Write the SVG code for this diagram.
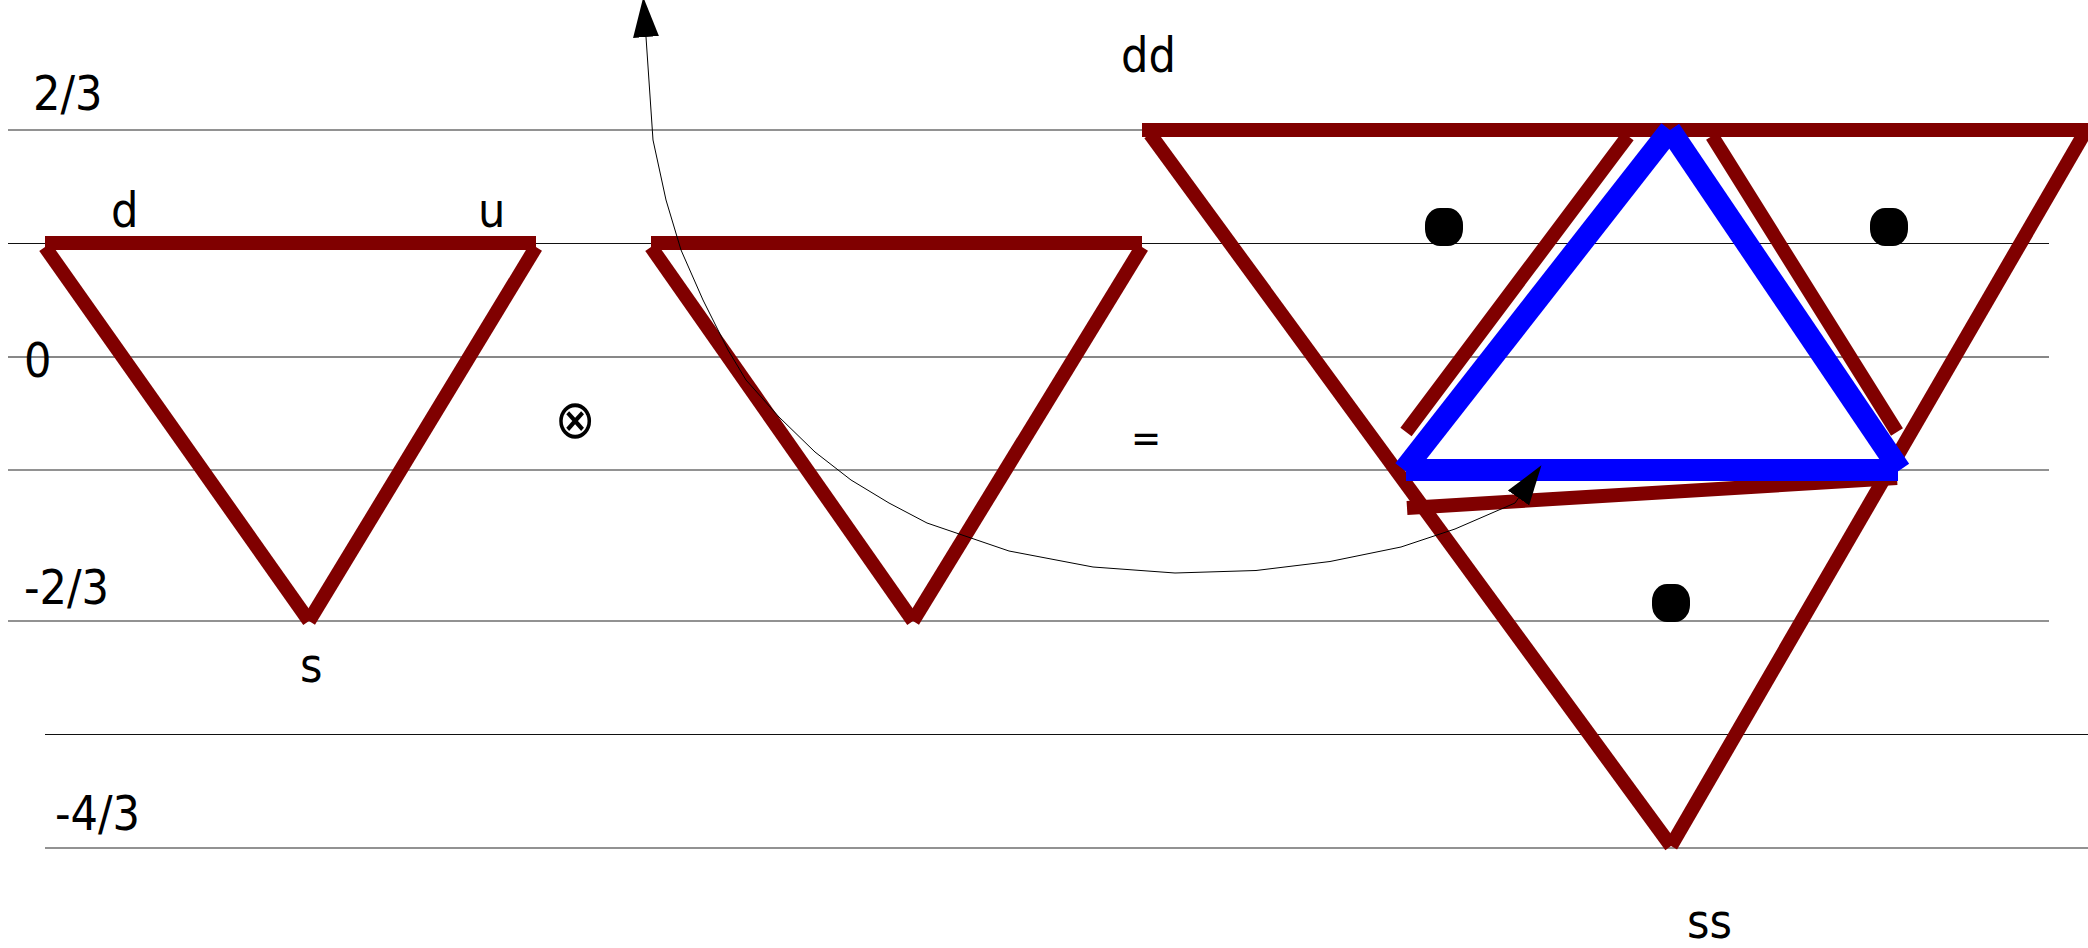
<svg xmlns="http://www.w3.org/2000/svg" width="2088" height="948" viewBox="0 0 2088 948">
<style>
.gl{stroke:#6e6e6e;stroke-width:1.5;fill:none}
.bl{stroke:#111;stroke-width:1;fill:none}
.red{stroke:#800000;stroke-width:14;fill:none;stroke-linecap:butt}
.blue{stroke:#0000ff;stroke-width:22;fill:none;stroke-linecap:butt}
.lbl{font-family:"DejaVu Sans Condensed","DejaVu Sans",sans-serif;font-stretch:condensed;font-size:48px;fill:#000}
.dot{fill:#000}
.conn{stroke:#000;stroke-width:1;fill:none}
</style>
<defs>
<marker id="ah" markerUnits="userSpaceOnUse" markerWidth="40" markerHeight="30" refX="0" refY="11" viewBox="0 0 34 22" orient="auto-start-reverse">
<path d="M0,0 L34,11 L0,22 z" fill="#000"/>
</marker>
</defs>
<rect width="2088" height="948" fill="#fff"/>
<g id="levels">
<line class="gl" x1="8" y1="130" x2="2088" y2="130"/>
<line class="bl" x1="8" y1="243.5" x2="2049" y2="243.5"/>
<line class="bl" x1="8" y1="357" x2="2049" y2="357"/>
<line class="gl" x1="8" y1="470" x2="2049" y2="470"/>
<line class="gl" x1="8" y1="621" x2="2049" y2="621"/>
<line class="bl" x1="45" y1="734.5" x2="2088" y2="734.5"/>
<line class="gl" x1="45" y1="848" x2="2088" y2="848"/>
</g>
<g id="level-labels">
<text class="lbl" x="33" y="110">2/3</text>
<text class="lbl" x="24" y="377">0</text>
<text class="lbl" x="24" y="604">-2/3</text>
<text class="lbl" x="55" y="830">-4/3</text>
</g>
<g id="triangle1">
<line class="red" x1="45" y1="243" x2="536" y2="243"/>
<line class="red" x1="45" y1="247" x2="309" y2="621"/>
<line class="red" x1="536" y1="247" x2="309" y2="621"/>
<text class="lbl" x="111" y="227">d</text>
<text class="lbl" x="478" y="227">u</text>
<text class="lbl" x="300" y="682">s</text>
</g>
<g id="otimes">
<text class="lbl" x="575" y="438" text-anchor="middle" style="font-size:54px;font-family:'DejaVu Sans',sans-serif">⊗</text>
</g>
<g id="triangle2">
<line class="red" x1="651" y1="243" x2="1142" y2="243"/>
<line class="red" x1="651" y1="247" x2="913" y2="621"/>
<line class="red" x1="1142" y1="247" x2="913" y2="621"/>
</g>
<g id="equals">
<text class="lbl" x="1146" y="452" text-anchor="middle" style="font-size:40px">=</text>
</g>
<g id="triangle3">
<line class="red" x1="1142" y1="130" x2="1670" y2="130"/>
<line class="red" x1="1670" y1="130" x2="2088" y2="130"/>
<line class="red" x1="1150" y1="134" x2="1671" y2="846"/>
<line class="red" x1="2084" y1="134" x2="1671" y2="846"/>
<line class="red" x1="1628" y1="136" x2="1406" y2="432"/>
<line class="red" x1="1712" y1="136" x2="1897" y2="432"/>
<line class="red" x1="1407" y1="508" x2="1897" y2="478"/>
<line class="blue" x1="1670" y1="130" x2="1404" y2="470"/>
<line class="blue" x1="1670" y1="130" x2="1900" y2="470"/>
<line class="blue" x1="1406" y1="470" x2="1898" y2="470"/>
<rect class="dot" x="1425" y="208" width="38" height="38" rx="15" ry="17"/>
<rect class="dot" x="1870" y="208" width="38" height="38" rx="15" ry="17"/>
<rect class="dot" x="1652" y="584" width="38" height="38" rx="15" ry="17"/>
<text class="lbl" x="1121" y="72">dd</text>
<text class="lbl" x="1687" y="938">ss</text>
</g>
<g id="connectors">
<path class="conn" marker-start="url(#ah)" marker-end="url(#ah)" d="M1518.5,498 L1515,503 L1455,529 L1401,547 L1330,561.5 L1256,570.5 L1175,573 L1093,567 L1009,551 L968,537 L927,523 L889,503 L851,480 L815,452 L779,417 L746,380 L728,350 L703,300 L681,250 L666,200 L653,140 L646,37"/>
</g>
</svg>
